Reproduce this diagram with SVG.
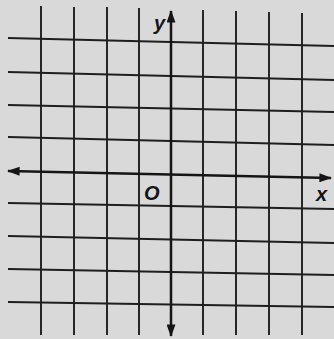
<svg xmlns="http://www.w3.org/2000/svg" width="334" height="339" viewBox="0 0 334 339">
<style>
.g{stroke:#1e1e1e;stroke-width:1.9;fill:none}
.ax{stroke:#151515;stroke-width:2.5;fill:none}
.lb{font-family:"Liberation Sans",Arial,sans-serif;font-weight:bold;font-style:italic;fill:#151515}
</style>
<defs>
<marker id="ah" viewBox="0 0 14 10" refX="13" refY="5" markerWidth="5" markerHeight="3.6" orient="auto-start-reverse" markerUnits="strokeWidth">
<path d="M0,0 L14,5 L0,10 Z" fill="#151515"/>
</marker>
</defs>
<rect width="334" height="339" fill="#d9d9d9"/>
<g id="grid">
<line class="g" x1="41" y1="6" x2="41" y2="335"/>
<line class="g" x1="74" y1="7" x2="74" y2="335"/>
<line class="g" x1="107" y1="7" x2="107" y2="335"/>
<line class="g" x1="139" y1="8" x2="139" y2="335"/>
<line class="g" x1="203" y1="10" x2="203" y2="335"/>
<line class="g" x1="236" y1="11" x2="236" y2="335"/>
<line class="g" x1="269" y1="12" x2="269" y2="335"/>
<line class="g" x1="302" y1="13" x2="302" y2="335"/>
<line class="g" x1="8" y1="38" x2="334" y2="46"/>
<line class="g" x1="8" y1="72" x2="334" y2="80"/>
<line class="g" x1="8" y1="105" x2="334" y2="112"/>
<line class="g" x1="8" y1="137" x2="334" y2="145"/>
<line class="g" x1="8" y1="203" x2="334" y2="209"/>
<line class="g" x1="8" y1="236" x2="334" y2="243"/>
<line class="g" x1="8" y1="269" x2="334" y2="275"/>
<line class="g" x1="8" y1="302" x2="334" y2="307"/>
</g>
<g id="connectors">
<line id="x-axis" class="ax" x1="8" y1="171" x2="331" y2="178" marker-start="url(#ah)" marker-end="url(#ah)"/>
<line id="y-axis" class="ax" x1="171" y1="336" x2="171" y2="11" marker-start="url(#ah)" marker-end="url(#ah)"/>
</g>
<g id="labels">
<text class="lb" x="154" y="30" font-size="20">y</text>
<text class="lb" x="144" y="200" font-size="20">O</text>
<text class="lb" x="316" y="201" font-size="20">x</text>
</g>
</svg>
